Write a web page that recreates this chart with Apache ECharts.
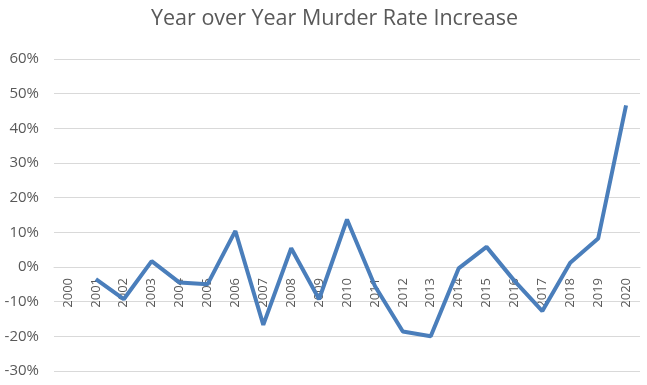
<!DOCTYPE html>
<html>
<head>
<meta charset="utf-8">
<script src="https://cdn.jsdelivr.net/npm/echarts@6/dist/echarts.min.js"></script>
<style>html,body{margin:0;padding:0;background:#fff}#c{width:647px;height:385px}</style>
</head>
<body>
<div id="c"></div>
<script>
const years = ['2000','2001','2002','2003','2004','2005','2006','2007','2008','2009','2010','2011','2012','2013','2014','2015','2016','2017','2018','2019','2020'];
const increase = [null,-3.5,-9.3,1.7,-4.5,-5.0,10.4,-16.7,5.4,-9.3,13.7,-5.5,-18.6,-20.0,-0.4,5.8,-4.0,-12.7,1.2,8.2,46.6];
const yTicks = {min:-30, max:60, interval:10};

const H = 385, gridTop = 59, gridBottom = 14;
const gridH = H - gridTop - gridBottom;
const zeroOffset = gridH * (0 - yTicks.min) / (yTicks.max - yTicks.min);

const chart = echarts.init(document.getElementById('c'));
chart.setOption({
  animation:false,
  title:{text:'Year over Year Murder Rate Increase',left:146,top:3,
    textStyle:{fontFamily:'Open Sans',fontSize:21.5,fontWeight:'normal',color:'#595959'}},
  grid:{left:54,right:7,top:gridTop,bottom:gridBottom,containLabel:false,outerBoundsMode:'none'},
  xAxis:{type:'category',data:years,boundaryGap:true,offset:-zeroOffset,
    axisLine:{show:true,onZero:false,lineStyle:{color:'#d9d9d9',width:1}},axisTick:{show:false},
    axisLabel:{rotate:90,fontFamily:'Open Sans',fontSize:13,color:'#595959',margin:11,interval:0}},
  yAxis:{type:'value',min:yTicks.min,max:yTicks.max,interval:yTicks.interval,
    axisLabel:{formatter:v=>v+'%',fontFamily:'Open Sans',fontSize:15,color:'#595959',margin:15},
    splitLine:{lineStyle:{color:'#d9d9d9',width:1}},axisLine:{show:false},axisTick:{show:false}},
  series:[{type:'line',data:increase,showSymbol:false,symbol:'none',z:3,
    lineStyle:{color:'#4a7ebb',width:4},connectNulls:false}]
});
</script>
</body>
</html>
